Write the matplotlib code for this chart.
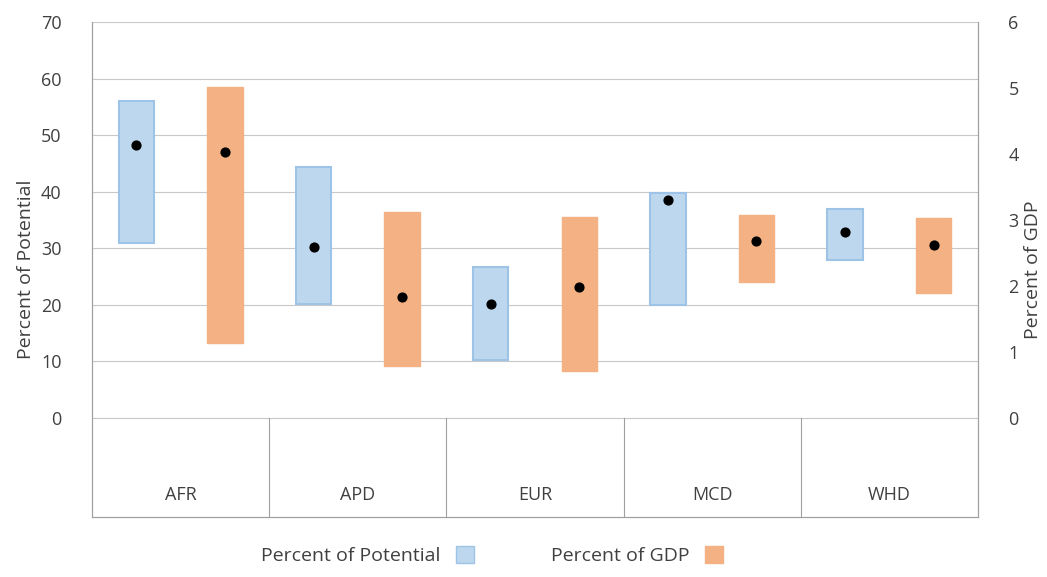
import numpy as np
import matplotlib
matplotlib.use('Agg')
from matplotlib import pyplot as plt
from matplotlib.patches import Patch

plt.rcParams['font.family'] = ['Open Sans', 'DejaVu Sans']

regions = ['AFR', 'APD', 'EUR', 'MCD', 'WHD']
pot_low = [31.0, 20.2, 10.3, 20.0, 28.0]
pot_high = [56.0, 44.3, 26.7, 39.8, 37.0]
pot_mid = [48.3, 30.2, 20.2, 38.5, 32.9]
gdp_low = [1.14, 0.78, 0.71, 2.06, 1.89]
gdp_high = [5.02, 3.12, 3.05, 3.08, 3.03]
gdp_mid = [4.03, 1.83, 1.98, 2.68, 2.62]

blue_face = '#bdd7ee'
blue_edge = '#9dc3e6'
orange = '#f4b183'

fig = plt.figure(figsize=(10.47, 5.77), dpi=100)
ax = fig.add_axes([0.088, 0.104, 0.846, 0.858])
ax2 = ax.twinx()

x = np.arange(len(regions))
w = 0.2
ax.bar(x - 0.25, np.array(pot_high) - np.array(pot_low), w, bottom=pot_low,
       color=blue_face, edgecolor=blue_edge, linewidth=1.5, zorder=2)
ax.scatter(x - 0.25, pot_mid, s=40, color='black', zorder=3)
ax2.bar(x + 0.25, np.array(gdp_high) - np.array(gdp_low), w, bottom=gdp_low,
        color=orange, edgecolor=orange, linewidth=1, zorder=2)
ax2.scatter(x + 0.25, gdp_mid, s=40, color='black', zorder=3)

ax.set_xlim(-0.5, 4.5)
ax.set_ylim(-17.5, 70)
ax2.set_ylim(-1.5, 6)
ax.set_yticks(range(0, 71, 10))
ax2.set_yticks(range(0, 7))
for v in range(0, 71, 10):
    ax.axhline(v, color='#c8c8c8', linewidth=0.8, zorder=0)
for i in range(1, 5):
    ax.plot([i - 0.5, i - 0.5], [-17.5, 0], color='#a0a0a0', linewidth=0.8, clip_on=False)

ax.set_xticks(x)
ax.set_xticklabels(regions)
ax.tick_params(axis='x', length=0, pad=-22)
ax.tick_params(axis='y', length=0, labelsize=13, colors='#404040', pad=22)
ax2.tick_params(axis='y', length=0, labelsize=13, colors='#404040', pad=22)
ax.tick_params(axis='x', labelsize=13, colors='#404040')
ax.set_ylabel('Percent of Potential', fontsize=14, color='#404040', labelpad=4)
ax2.set_ylabel('Percent of GDP', fontsize=14, color='#404040', rotation=90, labelpad=4)

for a in (ax, ax2):
    a.spines['top'].set_visible(False)
    for s in ('left', 'right', 'bottom'):
        a.spines[s].set_color('#a0a0a0')

handles = [Patch(facecolor=blue_face, edgecolor=blue_edge), Patch(facecolor=orange, edgecolor=orange)]
fig.legend(handles, ['Percent of Potential', 'Percent of GDP'], loc='lower center',
           bbox_to_anchor=(0.47, -0.01), ncol=2, frameon=False, fontsize=14,
           markerfirst=False, columnspacing=4, labelcolor='#404040',
           handlelength=0.9, handleheight=1.0)

fig.savefig('out.png', dpi=100)
